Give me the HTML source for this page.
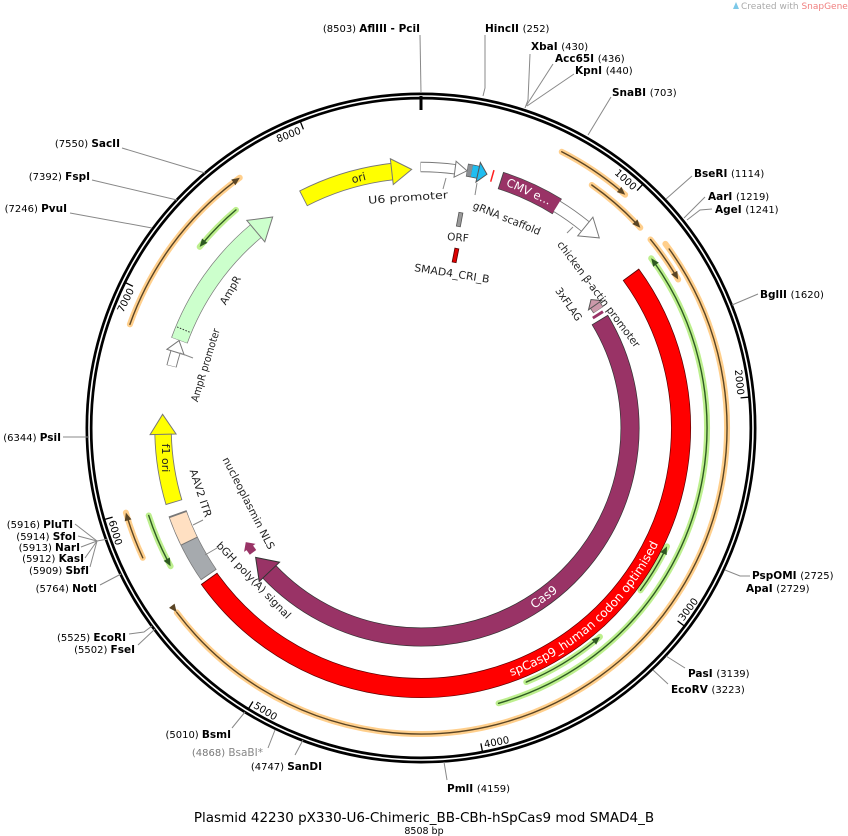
<!DOCTYPE html>
<html><head><meta charset="utf-8"><style>
html,body{margin:0;padding:0;background:#fff;}
svg{display:block;font-family:"DejaVu Sans","Liberation Sans",sans-serif;}
.n{font-size:10px;fill:#000}
.b{font-size:10.5px;font-weight:bold;fill:#000}
.l{stroke:#888;stroke-width:1;fill:none}
.f{font-size:10.5px;fill:#222}
</style></head><body>
<svg width="848" height="836" viewBox="0 0 848 836" xmlns="http://www.w3.org/2000/svg">
<rect width="848" height="836" fill="#fff"/>
<!-- watermark -->
<text x="741" y="9" font-size="9" fill="#aaa">Created with <tspan fill="#f08080">SnapGene</tspan>®</text>
<path d="M733 9 L736 2 L739 9 Z" fill="#7cc8e8"/>

<!-- backbone -->
<circle cx="421" cy="428" r="332" fill="none" stroke="#000" stroke-width="7"/>
<circle cx="421" cy="428" r="332" fill="none" stroke="#fff" stroke-width="1.6"/>
<line x1="421" y1="96" x2="421" y2="110" stroke="#000" stroke-width="3"/>

<!-- ticks -->
<g stroke="#000" stroke-width="1.3">
<line transform="rotate(42.31 421 428)" x1="421" y1="98" x2="421" y2="107"/>
<line transform="rotate(84.62 421 428)" x1="421" y1="98" x2="421" y2="107"/>
<line transform="rotate(126.94 421 428)" x1="421" y1="98" x2="421" y2="107"/>
<line transform="rotate(169.25 421 428)" x1="421" y1="98" x2="421" y2="107"/>
<line transform="rotate(211.57 421 428)" x1="421" y1="98" x2="421" y2="107"/>
<line transform="rotate(253.88 421 428)" x1="421" y1="98" x2="421" y2="107"/>
<line transform="rotate(296.19 421 428)" x1="421" y1="98" x2="421" y2="107"/>
<line transform="rotate(338.51 421 428)" x1="421" y1="98" x2="421" y2="107"/>
</g>
<g font-size="10" fill="#000">
<text transform="rotate(42.31 421 428)" x="418" y="110" text-anchor="end">1000</text>
<text transform="rotate(84.62 421 428)" x="418" y="110" text-anchor="end">2000</text>
<text transform="rotate(296.19 421 428)" x="418" y="110" text-anchor="end">7000</text>
<text transform="rotate(338.51 421 428)" x="418" y="110" text-anchor="end">8000</text>
<text transform="rotate(-53.06 421 428)" x="424" y="754">3000</text>
<text transform="rotate(-10.75 421 428)" x="424" y="754">4000</text>
<text transform="rotate(31.57 421 428)" x="424" y="754">5000</text>
<text transform="rotate(73.88 421 428)" x="424" y="754">6000</text>
</g>

<!-- thin primer arcs: orange -->
<g fill="none" stroke-linecap="round">
<g stroke="#ffcf8c" stroke-width="6">
<circle cx="421" cy="428" r="310" pathLength="360" stroke-dasharray="14.2 400" transform="rotate(-63 421 428)"/>
<circle cx="421" cy="428" r="297" pathLength="360" stroke-dasharray="12.5 400" transform="rotate(-54.9 421 428)"/>
<circle cx="421" cy="428" r="297" pathLength="360" stroke-dasharray="9.4 400" transform="rotate(-39.4 421 428)"/>
<circle cx="421" cy="428" r="306" pathLength="360" stroke-dasharray="180 400" transform="rotate(-37 421 428)"/>
<circle cx="421" cy="428" r="309" pathLength="360" stroke-dasharray="34.5 400" transform="rotate(199.6 421 428)"/>
<circle cx="421" cy="428" r="307" pathLength="360" stroke-dasharray="9 400" transform="rotate(155 421 428)"/>
</g>
<g stroke="#5a4525" stroke-width="1.4">
<circle cx="421" cy="428" r="310" pathLength="360" stroke-dasharray="13 400" transform="rotate(-63 421 428)"/>
<circle cx="421" cy="428" r="297" pathLength="360" stroke-dasharray="11.3 400" transform="rotate(-54.9 421 428)"/>
<circle cx="421" cy="428" r="297" pathLength="360" stroke-dasharray="8.2 400" transform="rotate(-39.4 421 428)"/>
<circle cx="421" cy="428" r="306" pathLength="360" stroke-dasharray="178.8 400" transform="rotate(-35.8 421 428)"/>
<circle cx="421" cy="428" r="309" pathLength="360" stroke-dasharray="33.3 400" transform="rotate(199.6 421 428)"/>
<circle cx="421" cy="428" r="307" pathLength="360" stroke-dasharray="7.8 400" transform="rotate(155 421 428)"/>
</g>
<!-- green -->
<g stroke="#bdef8e" stroke-width="6">
<circle cx="421" cy="428" r="286" pathLength="360" stroke-dasharray="110.7 400" transform="rotate(-36.4 421 428)"/>
<circle cx="421" cy="428" r="273" pathLength="360" stroke-dasharray="10.8 400" transform="rotate(25.7 421 428)"/>
<circle cx="421" cy="428" r="275" pathLength="360" stroke-dasharray="18.1 400" transform="rotate(49.4 421 428)"/>
<circle cx="421" cy="428" r="286" pathLength="360" stroke-dasharray="10.4 400" transform="rotate(219.3 421 428)"/>
<circle cx="421" cy="428" r="286" pathLength="360" stroke-dasharray="11.1 400" transform="rotate(151.1 421 428)"/>
</g>
<g stroke="#2e5a22" stroke-width="1.4">
<circle cx="421" cy="428" r="286" pathLength="360" stroke-dasharray="109.5 400" transform="rotate(-35.2 421 428)"/>
<circle cx="421" cy="428" r="273" pathLength="360" stroke-dasharray="9.6 400" transform="rotate(26.9 421 428)"/>
<circle cx="421" cy="428" r="275" pathLength="360" stroke-dasharray="16.9 400" transform="rotate(50.6 421 428)"/>
<circle cx="421" cy="428" r="286" pathLength="360" stroke-dasharray="9.2 400" transform="rotate(220.5 421 428)"/>
<circle cx="421" cy="428" r="286" pathLength="360" stroke-dasharray="9.9 400" transform="rotate(152.3 421 428)"/>
</g>
</g>
<!-- thin arrowheads -->
<g fill="#5a4525">
<polygon transform="rotate(41.2 421 428)" points="413,114.5 421,118 413,121.5"/>
<polygon transform="rotate(47.6 421 428)" points="413,127.5 421,131 413,134.5"/>
<polygon transform="rotate(60 421 428)" points="413,127.5 421,131 413,134.5"/>
<polygon transform="rotate(233 421 428)" points="429,118.5 421,122 429,125.5"/>
<polygon transform="rotate(324.1 421 428)" points="413,115.5 421,119 413,122.5"/>
<polygon transform="rotate(254 421 428)" points="413,117.5 421,121 413,124.5"/>
</g>
<g fill="#2e5a22">
<polygon transform="rotate(53.6 421 428)" points="429,138.5 421,142 429,145.5"/>
<polygon transform="rotate(115.7 421 428)" points="429,151.5 421,155 429,158.5"/>
<polygon transform="rotate(139.4 421 428)" points="429,149.5 421,153 429,156.5"/>
<polygon transform="rotate(309.3 421 428)" points="429,138.5 421,142 429,145.5"/>
<polygon transform="rotate(241.1 421 428)" points="429,138.5 421,142 429,145.5"/>
</g>

<!-- feature bands -->
<g fill="none">
<!-- ori -->
<circle cx="421" cy="428" r="258" stroke="#777" stroke-width="17.4" pathLength="360" stroke-dasharray="20.9 400" transform="rotate(242.8 421 428)"/>
<circle cx="421" cy="428" r="258" stroke="#ffff00" stroke-width="15.6" pathLength="360" stroke-dasharray="20.6 400" transform="rotate(243 421 428)"/>
<!-- U6 -->
<circle cx="421" cy="428" r="261" stroke="#777" stroke-width="10.4" pathLength="360" stroke-dasharray="7.6 400" transform="rotate(-90.1 421 428)"/>
<circle cx="421" cy="428" r="261" stroke="#fff" stroke-width="8.6" pathLength="360" stroke-dasharray="7.6 400" transform="rotate(-90 421 428)"/>
<!-- gray box + blue -->
<circle cx="421" cy="428" r="262" stroke="#555" stroke-width="13" pathLength="360" stroke-dasharray="2.7 400" transform="rotate(-79.9 421 428)"/>
<circle cx="421" cy="428" r="262" stroke="#8a8e92" stroke-width="11.6" pathLength="360" stroke-dasharray="1 400" transform="rotate(-79.8 421 428)"/>
<circle cx="421" cy="428" r="262" stroke="#1fbdf0" stroke-width="11.6" pathLength="360" stroke-dasharray="1.6 400" transform="rotate(-78.8 421 428)"/>
<!-- CMV -->
<circle cx="421" cy="428" r="260" stroke="#444" stroke-width="18" pathLength="360" stroke-dasharray="13.8 400" transform="rotate(-72.2 421 428)"/>
<circle cx="421" cy="428" r="260" stroke="#993366" stroke-width="16.6" pathLength="360" stroke-dasharray="13.5 400" transform="rotate(-72 421 428)"/>
<!-- CBh white -->
<circle cx="421" cy="428" r="260" stroke="#777" stroke-width="13" pathLength="360" stroke-dasharray="7.6 400" transform="rotate(-58.5 421 428)"/>
<circle cx="421" cy="428" r="260" stroke="#fff" stroke-width="11.4" pathLength="360" stroke-dasharray="7.8 400" transform="rotate(-58.5 421 428)"/>
<!-- red spCas9 -->
<circle cx="421" cy="428" r="260" stroke="#5a0000" stroke-width="20" pathLength="360" stroke-dasharray="180.9 400" transform="rotate(-36.2 421 428)"/>
<circle cx="421" cy="428" r="260" stroke="#ff0000" stroke-width="18.6" pathLength="360" stroke-dasharray="180.5 400" transform="rotate(-36 421 428)"/>
<!-- Cas9 -->
<circle cx="421" cy="428" r="209" stroke="#333" stroke-width="19" pathLength="360" stroke-dasharray="167.8 400" transform="rotate(-31.2 421 428)"/>
<circle cx="421" cy="428" r="209" stroke="#993366" stroke-width="17.6" pathLength="360" stroke-dasharray="167.6 400" transform="rotate(-31 421 428)"/>
<!-- NLS -->
<circle cx="421" cy="428" r="209" stroke="#993366" stroke-width="8" pathLength="360" stroke-dasharray="1.6 400" transform="rotate(143.5 421 428)"/>
<!-- 3xFLAG -->
<circle cx="421" cy="428" r="213" stroke="#555" stroke-width="12" pathLength="360" stroke-dasharray="1.6 400" transform="rotate(-35.2 421 428)"/>
<circle cx="421" cy="428" r="213" stroke="#cc99aa" stroke-width="10.6" pathLength="360" stroke-dasharray="1.5 400" transform="rotate(-35.2 421 428)"/>
<circle cx="421" cy="428" r="210" stroke="#993366" stroke-width="12" pathLength="360" stroke-dasharray="0.8 400" transform="rotate(-33 421 428)"/>
<!-- AmpR -->
<circle cx="421" cy="428" r="257" stroke="#777" stroke-width="17.4" pathLength="360" stroke-dasharray="30.2 400" transform="rotate(199.9 421 428)"/>
<circle cx="421" cy="428" r="257" stroke="#ccffcc" stroke-width="16" pathLength="360" stroke-dasharray="30.2 400" transform="rotate(200 421 428)"/>
<!-- AmpR promoter -->
<circle cx="421" cy="428" r="257" stroke="#777" stroke-width="10.4" pathLength="360" stroke-dasharray="3.2 400" transform="rotate(193.9 421 428)"/>
<circle cx="421" cy="428" r="257" stroke="#fff" stroke-width="8.6" pathLength="360" stroke-dasharray="3.3 400" transform="rotate(194 421 428)"/>
<!-- f1 ori -->
<circle cx="421" cy="428" r="258" stroke="#777" stroke-width="17.4" pathLength="360" stroke-dasharray="15.4 400" transform="rotate(163.2 421 428)"/>
<circle cx="421" cy="428" r="258" stroke="#ffff00" stroke-width="15.6" pathLength="360" stroke-dasharray="15.3 400" transform="rotate(163.4 421 428)"/>
<!-- bGH + AAV2 -->
<circle cx="421" cy="428" r="258" stroke="#777" stroke-width="19" pathLength="360" stroke-dasharray="15.4 400" transform="rotate(145.3 421 428)"/>
<circle cx="421" cy="428" r="258" stroke="#a6aaae" stroke-width="17.6" pathLength="360" stroke-dasharray="8.4 400" transform="rotate(145.5 421 428)"/>
<circle cx="421" cy="428" r="258" stroke="#ffe0c2" stroke-width="17.6" pathLength="360" stroke-dasharray="6.3 400" transform="rotate(154 421 428)"/>
</g>
<line transform="rotate(244 421 428)" x1="421" y1="161" x2="421" y2="179" stroke="#777" stroke-width="1"/>
<line transform="rotate(292.5 421 428)" x1="421" y1="164" x2="421" y2="178" stroke="#333" stroke-width="1" stroke-dasharray="1.5 1.5"/>

<!-- band arrowheads -->
<polygon transform="rotate(353.5 421 428)" points="421,157 441,170 421,183" fill="#ffff00" stroke="#777" stroke-width="1"/>
<polygon transform="rotate(7.5 421 428)" points="421,159 433,167 421,175" fill="#fff" stroke="#777" stroke-width="1"/>
<polygon transform="rotate(12.6 421 428)" points="421,156 430,166 421,176" fill="#1fbdf0" stroke="#555" stroke-width="1"/>
<line transform="rotate(15.8 421 428)" x1="421" y1="160" x2="421" y2="172" stroke="#ff2020" stroke-width="1.5"/>
<polygon transform="rotate(39.2 421 428)" points="421,156 439,168 421,180" fill="#fff" stroke="#777" stroke-width="1"/>
<polygon transform="rotate(226.5 421 428)" points="421,205 441,219 421,233" fill="#993366" stroke="#333" stroke-width="1"/>
<polygon transform="rotate(235 421 428)" points="421,212 428,219 421,226" fill="#993366"/>
<polygon transform="rotate(54.8 421 428)" points="421,207 414,215 421,223" fill="#cc99aa" stroke="#555" stroke-width="1"/>
<polygon transform="rotate(320 421 428)" points="421,157 443,171 421,185" fill="#ccffcc" stroke="#777" stroke-width="1"/>
<polygon transform="rotate(287.2 421 428)" points="421,162 433,171 421,180" fill="#fff" stroke="#777" stroke-width="1"/>
<polygon transform="rotate(268.6 421 428)" points="421,157 441,170 421,183" fill="#ffff00" stroke="#777" stroke-width="1"/>
<rect transform="rotate(10.5 421 428)" x="419" y="209" width="4" height="14" fill="#9a9a9a" stroke="#555" stroke-width="0.8"/>
<rect transform="rotate(11.3 421 428)" x="419" y="245" width="4" height="14" fill="#dd0000" stroke="#500" stroke-width="0.8"/>

<!-- in-feature text -->
<text transform="rotate(-14 421 428)" x="421" y="174" font-size="11" text-anchor="middle" fill="#222">ori</text>
<text transform="rotate(24.5 421 428)" x="421" y="172" font-size="11.5" text-anchor="middle" fill="#fff">CMV e...</text>
<text transform="rotate(-36 421 428)" x="421" y="641" font-size="12" text-anchor="middle" fill="#fff">Cas9</text>
<text transform="rotate(90 166 458)" x="166" y="462" font-size="11" text-anchor="middle" fill="#222">f1 ori</text>
<path id="redp" d="M 475.9 686.2 A 264 264 0 0 0 672.1 509.6" fill="none"/>
<text font-size="12" fill="#fff"><textPath href="#redp" startOffset="50%" text-anchor="middle">spCasp9_human codon optimised</textPath></text>

<!-- feature labels -->
<g class="f">
<text transform="rotate(-4 408 197)" x="408" y="201" text-anchor="middle" textLength="80" lengthAdjust="spacingAndGlyphs">U6 promoter</text>
<text transform="rotate(22 507 218)" x="507" y="222" text-anchor="middle" textLength="72" lengthAdjust="spacingAndGlyphs">gRNA scaffold</text>
<text transform="rotate(5 458 237)" x="458" y="241" text-anchor="middle">ORF</text>
<text transform="rotate(9 452 273)" x="452" y="277" text-anchor="middle" textLength="76" lengthAdjust="spacingAndGlyphs">SMAD4_CRI_B</text>
<text transform="rotate(53 599 294)" x="599" y="298" text-anchor="middle" textLength="130" lengthAdjust="spacingAndGlyphs">chicken β-actin promoter</text>
<text transform="rotate(55 569 304)" x="569" y="308" text-anchor="middle" textLength="38" lengthAdjust="spacingAndGlyphs">3xFLAG</text>
<text transform="rotate(-60 230 290)" x="230" y="294" text-anchor="middle">AmpR</text>
<text transform="rotate(-73 205 365)" x="205" y="369" text-anchor="middle" textLength="76" lengthAdjust="spacingAndGlyphs">AmpR promoter</text>
<text transform="rotate(72 201 493)" x="201" y="497" text-anchor="middle" textLength="50" lengthAdjust="spacingAndGlyphs">AAV2 ITR</text>
<text transform="rotate(63 249 503)" x="249" y="507" text-anchor="middle" textLength="102" lengthAdjust="spacingAndGlyphs">nucleoplasmin NLS</text>
<text transform="rotate(46 254 580)" x="254" y="584" text-anchor="middle" textLength="102" lengthAdjust="spacingAndGlyphs">bGH poly(A) signal</text>
</g>
<g class="l">
<line x1="443" y1="189" x2="446" y2="178"/>
<line x1="477" y1="183" x2="475" y2="195"/>
<line x1="573" y1="227" x2="567" y2="233"/>
<line x1="193" y1="358" x2="180" y2="353"/>
<line x1="193" y1="525" x2="203" y2="520"/>
<line x1="205" y1="555" x2="217" y2="548"/>
</g>

<!-- restriction site lines -->
<g class="l">
<line x1="420" y1="35" x2="421" y2="93"/>
<polyline points="485,35 485,88 483,96"/>
<polyline points="530,54 528,100 525,108"/>
<line x1="553" y1="64" x2="526" y2="106"/>
<line x1="574" y1="74" x2="527" y2="106"/>
<line x1="611" y1="97" x2="588" y2="135"/>
<line x1="692" y1="176" x2="666" y2="199"/>
<line x1="705" y1="197" x2="684" y2="218"/>
<polyline points="712,209 700,210 687,220"/>
<line x1="758" y1="294" x2="732" y2="305"/>
<polyline points="750,576 740,576 725,570"/>
<line x1="685" y1="668" x2="666" y2="656"/>
<line x1="668" y1="684" x2="653" y2="670"/>
<line x1="447" y1="780" x2="444" y2="762"/>
<line x1="295" y1="755" x2="303" y2="740"/>
<line x1="268" y1="748" x2="275" y2="730"/>
<line x1="232" y1="728" x2="245" y2="712"/>
<polyline points="129,634 144,632 152,626"/>
<line x1="138" y1="645" x2="155" y2="629"/>
<line x1="100" y1="585" x2="121" y2="574"/>
<line x1="75" y1="524" x2="97" y2="541"/>
<line x1="78" y1="536" x2="97" y2="541"/>
<line x1="81" y1="547" x2="97" y2="541"/>
<line x1="85" y1="558" x2="97" y2="541"/>
<line x1="90" y1="567" x2="97" y2="541"/>
<line x1="97" y1="541" x2="108" y2="539"/>
<line x1="63" y1="437" x2="89" y2="437"/>
<line x1="70" y1="213" x2="152" y2="228"/>
<line x1="92" y1="180" x2="177" y2="200"/>
<line x1="122" y1="148" x2="205" y2="173"/>
</g>

<!-- restriction labels: right side -->
<text x="420" y="32" text-anchor="end"><tspan class="n">(8503)  </tspan><tspan class="b">AflIII - PciI</tspan></text>
<text x="485" y="32"><tspan class="b">HincII  </tspan><tspan class="n">(252)</tspan></text>
<text x="531" y="50"><tspan class="b">XbaI  </tspan><tspan class="n">(430)</tspan></text>
<text x="555" y="62"><tspan class="b">Acc65I  </tspan><tspan class="n">(436)</tspan></text>
<text x="575" y="74"><tspan class="b">KpnI  </tspan><tspan class="n">(440)</tspan></text>
<text x="612" y="96"><tspan class="b">SnaBI  </tspan><tspan class="n">(703)</tspan></text>
<text x="694" y="177"><tspan class="b">BseRI  </tspan><tspan class="n">(1114)</tspan></text>
<text x="708" y="200"><tspan class="b">AarI  </tspan><tspan class="n">(1219)</tspan></text>
<text x="715" y="213"><tspan class="b">AgeI  </tspan><tspan class="n">(1241)</tspan></text>
<text x="760" y="298"><tspan class="b">BglII  </tspan><tspan class="n">(1620)</tspan></text>
<text x="752" y="579"><tspan class="b">PspOMI  </tspan><tspan class="n">(2725)</tspan></text>
<text x="746" y="592"><tspan class="b">ApaI  </tspan><tspan class="n">(2729)</tspan></text>
<text x="688" y="677"><tspan class="b">PasI  </tspan><tspan class="n">(3139)</tspan></text>
<text x="671" y="693"><tspan class="b">EcoRV  </tspan><tspan class="n">(3223)</tspan></text>
<text x="447" y="792"><tspan class="b">PmlI  </tspan><tspan class="n">(4159)</tspan></text>
<!-- left side -->
<text x="322" y="770" text-anchor="end"><tspan class="n">(4747)  </tspan><tspan class="b">SanDI</tspan></text>
<text x="263" y="756" text-anchor="end"><tspan class="n" fill="#777" style="fill:#777">(4868)  </tspan><tspan class="b" style="fill:#888;font-weight:normal">BsaBI*</tspan></text>
<text x="231" y="738" text-anchor="end"><tspan class="n">(5010)  </tspan><tspan class="b">BsmI</tspan></text>
<text x="126" y="641" text-anchor="end"><tspan class="n">(5525)  </tspan><tspan class="b">EcoRI</tspan></text>
<text x="135" y="653" text-anchor="end"><tspan class="n">(5502)  </tspan><tspan class="b">FseI</tspan></text>
<text x="97" y="592" text-anchor="end"><tspan class="n">(5764)  </tspan><tspan class="b">NotI</tspan></text>
<text x="73" y="528" text-anchor="end"><tspan class="n">(5916)  </tspan><tspan class="b">PluTI</tspan></text>
<text x="76" y="540" text-anchor="end"><tspan class="n">(5914)  </tspan><tspan class="b">SfoI</tspan></text>
<text x="80" y="551" text-anchor="end"><tspan class="n">(5913)  </tspan><tspan class="b">NarI</tspan></text>
<text x="84" y="562" text-anchor="end"><tspan class="n">(5912)  </tspan><tspan class="b">KasI</tspan></text>
<text x="89" y="574" text-anchor="end"><tspan class="n">(5909)  </tspan><tspan class="b">SbfI</tspan></text>
<text x="61" y="441" text-anchor="end"><tspan class="n">(6344)  </tspan><tspan class="b">PsiI</tspan></text>
<text x="67" y="212" text-anchor="end"><tspan class="n">(7246)  </tspan><tspan class="b">PvuI</tspan></text>
<text x="90" y="180" text-anchor="end"><tspan class="n">(7392)  </tspan><tspan class="b">FspI</tspan></text>
<text x="120" y="147" text-anchor="end"><tspan class="n">(7550)  </tspan><tspan class="b">SacII</tspan></text>

<!-- title -->
<text x="424" y="822" text-anchor="middle" font-size="13.5" fill="#000">Plasmid 42230  pX330-U6-Chimeric_BB-CBh-hSpCas9 mod SMAD4_B</text>
<text x="424" y="834" text-anchor="middle" font-size="9.5" fill="#000">8508 bp</text>
</svg>
</body></html>
